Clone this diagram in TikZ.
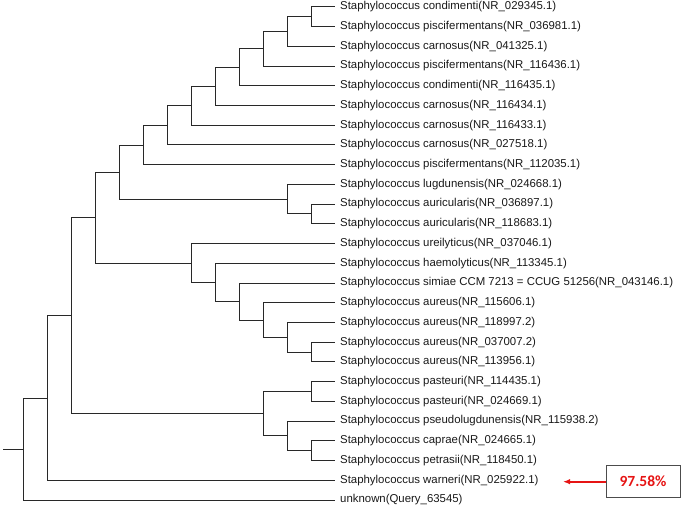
\documentclass[tikz,border=0pt]{standalone}
\usepackage{fontspec}
\setmainfont{Liberation Sans}
\newfontfamily\pctfont{Carlito}
\usetikzlibrary{arrows.meta}
\definecolor{treeline}{RGB}{40,40,40}
\definecolor{arrowred}{RGB}{230,20,20}
\begin{document}
\begin{tikzpicture}[x=1pt,y=-1pt,
  branch/.style={draw=treeline,line width=0.75pt},
  leaf/.style={anchor=west,inner xsep=5pt,inner ysep=0pt,text=black!90,font=\fontsize{11.4}{13}\selectfont},
  pctbox/.style={draw=black!70,line width=0.8pt,minimum width=74pt,minimum height=32pt,inner sep=0pt,
    text=arrowred,font=\pctfont\bfseries\fontsize{15.5}{17}\selectfont},
  redarrow/.style={draw=arrowred,line width=1.8pt,-{Latex[length=7pt,width=5.5pt]}}]
\useasboundingbox (0,0) rectangle (685,510);
% leaves
\node[leaf] (l1)  at (335,6.7)    {Staphylococcus condimenti(NR\_029345.1)};
\node[leaf] (l2)  at (335,26.43)  {Staphylococcus piscifermentans(NR\_036981.1)};
\node[leaf] (l3)  at (335,46.16)  {Staphylococcus carnosus(NR\_041325.1)};
\node[leaf] (l4)  at (335,65.89)  {Staphylococcus piscifermentans(NR\_116436.1)};
\node[leaf] (l5)  at (335,85.62)  {Staphylococcus condimenti(NR\_116435.1)};
\node[leaf] (l6)  at (335,105.35) {Staphylococcus carnosus(NR\_116434.1)};
\node[leaf] (l7)  at (335,125.08) {Staphylococcus carnosus(NR\_116433.1)};
\node[leaf] (l8)  at (335,144.81) {Staphylococcus carnosus(NR\_027518.1)};
\node[leaf] (l9)  at (335,164.54) {Staphylococcus piscifermentans(NR\_112035.1)};
\node[leaf] (l10) at (335,184.27) {Staphylococcus lugdunensis(NR\_024668.1)};
\node[leaf] (l11) at (335,204.0)  {Staphylococcus auricularis(NR\_036897.1)};
\node[leaf] (l12) at (335,223.73) {Staphylococcus auricularis(NR\_118683.1)};
\node[leaf] (l13) at (335,243.46) {Staphylococcus ureilyticus(NR\_037046.1)};
\node[leaf] (l14) at (335,263.19) {Staphylococcus haemolyticus(NR\_113345.1)};
\node[leaf] (l15) at (335,282.92) {Staphylococcus simiae CCM 7213 = CCUG 51256(NR\_043146.1)};
\node[leaf] (l16) at (335,302.65) {Staphylococcus aureus(NR\_115606.1)};
\node[leaf] (l17) at (335,322.38) {Staphylococcus aureus(NR\_118997.2)};
\node[leaf] (l18) at (335,342.11) {Staphylococcus aureus(NR\_037007.2)};
\node[leaf] (l19) at (335,361.84) {Staphylococcus aureus(NR\_113956.1)};
\node[leaf] (l20) at (335,381.57) {Staphylococcus pasteuri(NR\_114435.1)};
\node[leaf] (l21) at (335,401.3)  {Staphylococcus pasteuri(NR\_024669.1)};
\node[leaf] (l22) at (335,421.03) {Staphylococcus pseudolugdunensis(NR\_115938.2)};
\node[leaf] (l23) at (335,440.76) {Staphylococcus caprae(NR\_024665.1)};
\node[leaf] (l24) at (335,460.49) {Staphylococcus petrasii(NR\_118450.1)};
\node[leaf] (l25) at (335,480.22) {Staphylococcus warneri(NR\_025922.1)};
\node[leaf] (l26) at (335,499.95) {unknown(Query\_63545)};
% internal nodes
\coordinate (R) at (311,16.57);
\coordinate (Q) at (287,31.36);
\coordinate (P) at (263,48.63);
\coordinate (O) at (239,67.12);
\coordinate (N) at (215,86.24);
\coordinate (M) at (191,105.66);
\coordinate (L) at (167,125.24);
\coordinate (J) at (143,144.89);
\coordinate (X) at (311,213.87);
\coordinate (K) at (287,199.07);
\coordinate (H) at (119,171.98);
\coordinate (W) at (311,351.98);
\coordinate (V) at (287,337.18);
\coordinate (U) at (263,319.91);
\coordinate (T) at (239,301.42);
\coordinate (S) at (215,282.3);
\coordinate (I) at (191,262.88);
\coordinate (C) at (95,217.43);
\coordinate (Pa) at (311,391.44);
\coordinate (G) at (311,450.63);
\coordinate (F) at (287,435.83);
\coordinate (E) at (263,413.63);
\coordinate (B) at (71,315.53);
\coordinate (A) at (47,397.88);
\coordinate (Rt) at (23,448.9);
\coordinate (stub) at (3,448.9);
% branches
\draw[branch] (R) |- (l1.west);  \draw[branch] (R) |- (l2.west);
\draw[branch] (Q) |- (R);        \draw[branch] (Q) |- (l3.west);
\draw[branch] (P) |- (Q);        \draw[branch] (P) |- (l4.west);
\draw[branch] (O) |- (P);        \draw[branch] (O) |- (l5.west);
\draw[branch] (N) |- (O);        \draw[branch] (N) |- (l6.west);
\draw[branch] (M) |- (N);        \draw[branch] (M) |- (l7.west);
\draw[branch] (L) |- (M);        \draw[branch] (L) |- (l8.west);
\draw[branch] (J) |- (L);        \draw[branch] (J) |- (l9.west);
\draw[branch] (X) |- (l11.west); \draw[branch] (X) |- (l12.west);
\draw[branch] (K) |- (l10.west); \draw[branch] (K) |- (X);
\draw[branch] (H) |- (J);        \draw[branch] (H) |- (K);
\draw[branch] (W) |- (l18.west); \draw[branch] (W) |- (l19.west);
\draw[branch] (V) |- (l17.west); \draw[branch] (V) |- (W);
\draw[branch] (U) |- (l16.west); \draw[branch] (U) |- (V);
\draw[branch] (T) |- (l15.west); \draw[branch] (T) |- (U);
\draw[branch] (S) |- (l14.west); \draw[branch] (S) |- (T);
\draw[branch] (I) |- (l13.west); \draw[branch] (I) |- (S);
\draw[branch] (C) |- (H);        \draw[branch] (C) |- (I);
\draw[branch] (Pa) |- (l20.west); \draw[branch] (Pa) |- (l21.west);
\draw[branch] (G) |- (l23.west); \draw[branch] (G) |- (l24.west);
\draw[branch] (F) |- (l22.west); \draw[branch] (F) |- (G);
\draw[branch] (E) |- (Pa);       \draw[branch] (E) |- (F);
\draw[branch] (B) |- (C);        \draw[branch] (B) |- (E);
\draw[branch] (A) |- (B);        \draw[branch] (A) |- (l25.west);
\draw[branch] (Rt) |- (A);       \draw[branch] (Rt) |- (l26.west);
\draw[branch] (stub) -- (Rt);
% annotation
\node[pctbox] (pct) at (643,481.2) {97.58\%};
\coordinate (tip) at (563,481.7);
\draw[redarrow] (pct.west |- tip) -- (tip);
\end{tikzpicture}
\end{document}
